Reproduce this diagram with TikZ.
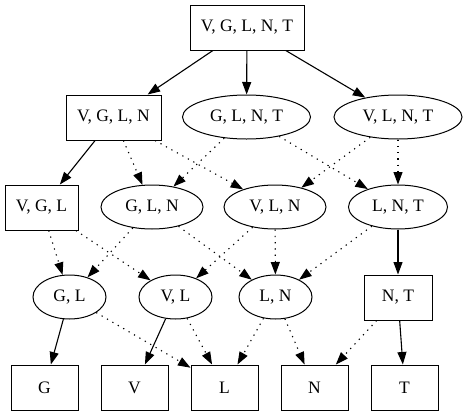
\documentclass[tikz,border=0pt]{standalone}
\usepackage{fontspec}
\setmainfont{Liberation Serif}
\usetikzlibrary{shapes.geometric,arrows.meta}
\begin{document}
\begin{tikzpicture}[x=1pt,y=-1pt,
  every node/.style={font=\fontsize{17.5}{20}\selectfont, line width=1pt, inner sep=0pt},
  boxn/.style={draw, rectangle, minimum height=45pt},
  elln/.style={draw, ellipse, minimum height=44pt},
  edge/.style={line width=1.1pt, -{Triangle[length=12.5pt,width=9pt]}},
  dotedge/.style={edge, dash pattern=on 1.25pt off 5pt}]
\useasboundingbox (0,0) rectangle (468,415);
% row 1
\node[boxn, minimum width=114pt] (vglnt) at (247,27.5) {V, G, L, N, T};
% row 2
\node[boxn, minimum width=95pt] (vgln) at (113.5,117.5) {V, G, L, N};
\node[elln, minimum width=128pt] (glnt) at (246.5,117) {G, L, N, T};
\node[elln, minimum width=128pt] (vlnt) at (398,117) {V, L, N, T};
% row 3
\node[boxn, minimum width=73pt] (vgl) at (41.5,207.5) {V, G, L};
\node[elln, minimum width=102pt] (gln) at (152,207) {G, L, N};
\node[elln, minimum width=102pt] (vln) at (275,207) {V, L, N};
\node[elln, minimum width=99pt] (lnt) at (398,207) {L, N, T};
% row 4
\node[elln, minimum width=73pt] (gl) at (69.5,297) {G, L};
\node[elln, minimum width=73pt] (vl) at (175.5,297) {V, L};
\node[elln, minimum width=73pt] (ln) at (275.5,297) {L, N};
\node[boxn, minimum width=68pt] (nt) at (398,297.5) {N, T};
% row 5
\node[boxn, minimum width=67pt] (g) at (44.5,387.5) {G};
\node[boxn, minimum width=67pt] (v) at (134.5,387.5) {V};
\node[boxn, minimum width=67pt] (l) at (224.5,387.5) {L};
\node[boxn, minimum width=67pt] (n) at (314.5,387.5) {N};
\node[boxn, minimum width=67pt] (t) at (404.5,387.5) {T};
% solid edges
\draw[edge] (vglnt) -- (vgln);
\draw[edge] (vglnt) -- (glnt);
\draw[edge] (vglnt) -- (vlnt);
\draw[edge] (vgln) -- (vgl);
\draw[edge] (lnt) -- (nt);
\draw[edge] (gl) -- (g);
\draw[edge] (vl) -- (v);
\draw[edge] (nt) -- (t);
% dotted edges
\draw[dotedge] (vgln) -- (gln);
\draw[dotedge] (vgln) -- (vln);
\draw[dotedge] (glnt) -- (gln);
\draw[dotedge] (glnt) -- (lnt);
\draw[dotedge] (vlnt) -- (vln);
\draw[dotedge] (vlnt) -- (lnt);
\draw[dotedge] (vgl) -- (gl);
\draw[dotedge] (vgl) -- (vl);
\draw[dotedge] (gln) -- (gl);
\draw[dotedge] (gln) -- (ln);
\draw[dotedge] (vln) -- (vl);
\draw[dotedge] (vln) -- (ln);
\draw[dotedge] (lnt) -- (ln);
\draw[dotedge] (gl) -- (l);
\draw[dotedge] (vl) -- (l);
\draw[dotedge] (ln) -- (l);
\draw[dotedge] (ln) -- (n);
\draw[dotedge] (nt) -- (n);
\end{tikzpicture}
\end{document}
